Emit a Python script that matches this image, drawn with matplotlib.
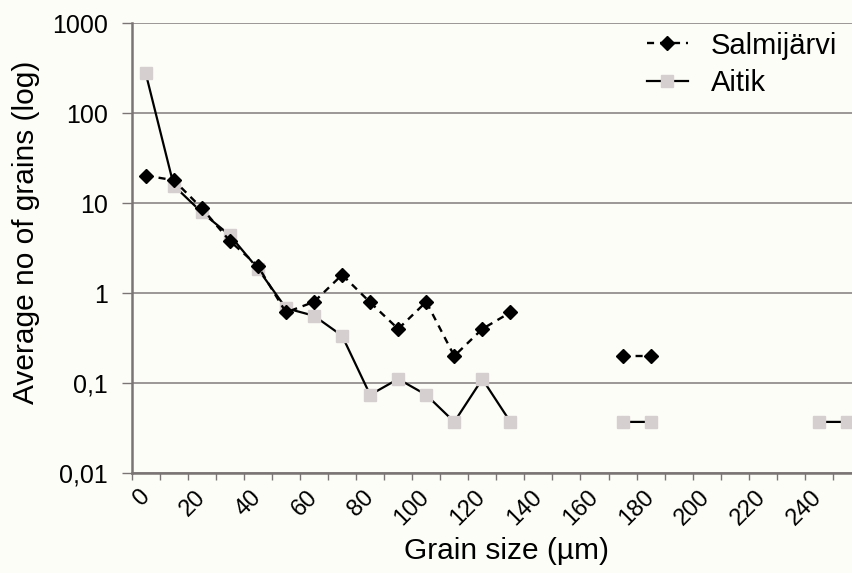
import numpy as np
import matplotlib
matplotlib.use("Agg")
import matplotlib.pyplot as plt
from matplotlib.ticker import FixedLocator, FixedFormatter

plt.rcParams['font.family'] = ['Liberation Sans', 'DejaVu Sans']

# Grain size classes (um), one per category
grain_size = list(range(0, 260, 10))
nan = np.nan

# Average number of grains per class
salmijarvi = [20.3, 18.0, 8.8, 3.8, 2.0, 0.61, 0.8, 1.6, 0.79, 0.40, 0.8, 0.20, 0.40, 0.61,
              nan, nan, nan, 0.20, 0.20, nan, nan, nan, nan, nan, nan, nan]
aitik = [278, 15.7, 7.9, 4.4, 1.86, 0.68, 0.56, 0.336, 0.074, 0.111, 0.074, 0.037, 0.111, 0.037,
         nan, nan, nan, 0.037, 0.037, nan, nan, nan, nan, nan, 0.037, 0.037]

x_labels = list(range(0, 260, 20))[:13]
y_ticks = [0.01, 0.1, 1, 10, 100, 1000]
y_labels = ['0,01', '0,1', '1', '10', '100', '1000']

bg = '#fdfdf8'
axis_col = '#7a7474'

fig = plt.figure(figsize=(8.52, 5.73), dpi=100, facecolor=bg)
ax = fig.add_axes([0.1546, 0.1745, 0.8454, 0.7848], facecolor=bg)

ax.plot(grain_size, aitik, color='black', linestyle='-', linewidth=1.6,
        marker='s', markersize=9, markerfacecolor='#d6cfcf', markeredgecolor='#d6cfcf',
        label='Aitik', zorder=3)
ax.plot(grain_size, salmijarvi, color='black', linestyle=(0, (3, 2.5)), linewidth=1.7,
        marker='D', markersize=7, markerfacecolor='black', markeredgecolor='black',
        label='Salmijärvi', zorder=4)

ax.set_yscale('log')
ax.set_ylim(0.01, 1000)
ax.set_xlim(-5, 251.8)

ax.yaxis.set_major_locator(FixedLocator(y_ticks))
ax.yaxis.set_major_formatter(FixedFormatter(y_labels))
ax.yaxis.set_minor_locator(FixedLocator([]))
ax.grid(axis='y', which='major', color='#8a8585', linewidth=1.2)
ax.set_axisbelow(True)

ax.xaxis.set_major_locator(FixedLocator(x_labels))
ax.xaxis.set_major_formatter(FixedFormatter([str(v) for v in x_labels]))
ax.xaxis.set_minor_locator(FixedLocator([v - 5 for v in grain_size] + [255]))
ax.tick_params(axis='x', which='major', length=0, pad=15, labelsize=17)
ax.tick_params(axis='x', which='minor', length=5, width=1, color=axis_col, direction='out')
ax.tick_params(axis='y', which='major', length=7, width=1, color=axis_col,
               direction='out', pad=10, labelsize=18)
for lab in ax.get_xticklabels():
    lab.set_rotation(45)
    lab.set_ha('right')
    lab.set_va('center')
    lab.set_rotation_mode('anchor')

for s in ['top', 'right']:
    ax.spines[s].set_visible(False)
for s in ['left', 'bottom']:
    ax.spines[s].set_color(axis_col)
    ax.spines[s].set_linewidth(1.8)

ax.set_xlabel('Grain size (µm)', fontsize=21.5)
ax.xaxis.set_label_coords(0.521, -0.142)
ax.set_ylabel('Average no of grains (log)', fontsize=21.5)
ax.yaxis.set_label_coords(-0.127, 0.536)

handles, labels = ax.get_legend_handles_labels()
leg = ax.legend(handles[::-1], labels[::-1], loc='upper right', frameon=False,
                fontsize=21, handlelength=1.4, handletextpad=0.8, labelspacing=0.32,
                borderpad=0, borderaxespad=0,
                bbox_to_anchor=(0.983, 0.945), bbox_transform=fig.transFigure)

fig.savefig('out.png', dpi=100, facecolor=bg)
